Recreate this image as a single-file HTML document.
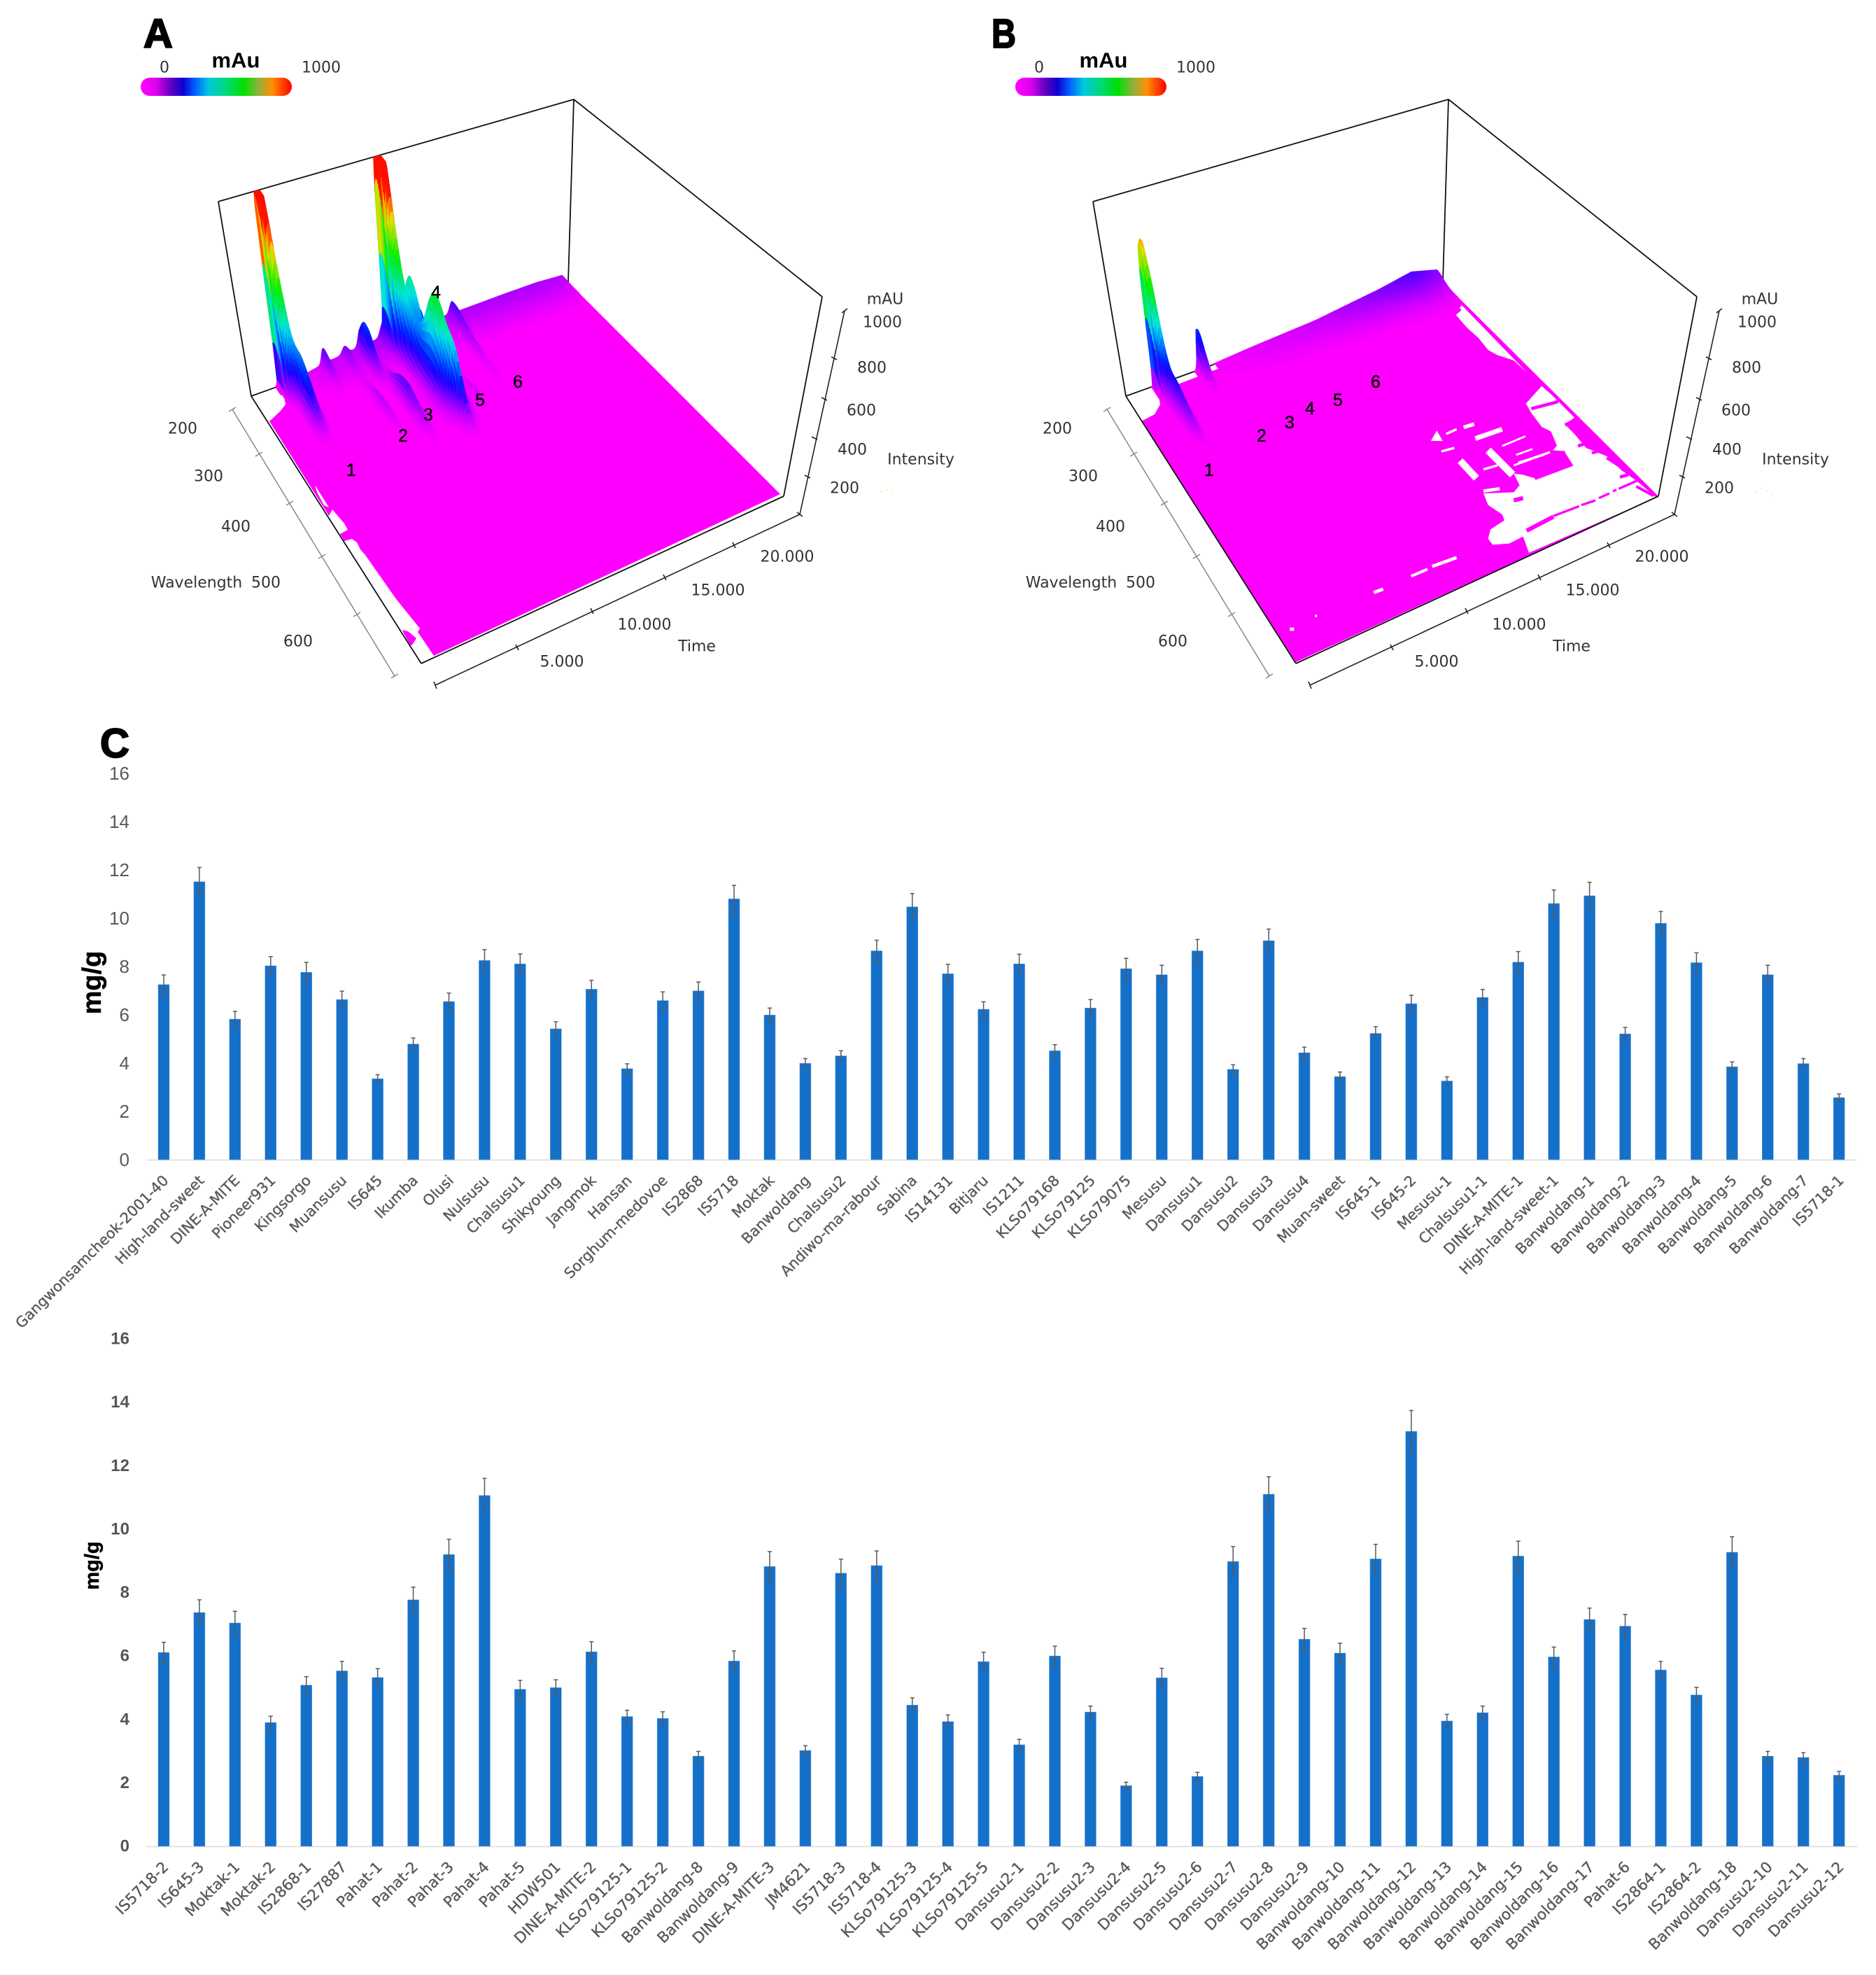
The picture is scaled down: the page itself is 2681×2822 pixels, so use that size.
<!DOCTYPE html>
<html lang="en">
<head>
<meta charset="utf-8">
<title>HPLC 3D chromatograms and content bar charts</title>
<style>
html,body{margin:0;padding:0;background:#fff}
svg{display:block}
.t3d{font-family:"DejaVu Sans","Liberation Sans",sans-serif;font-size:22px;fill:#333;text-anchor:middle;dominant-baseline:central}
.peak{font-family:"Liberation Sans",sans-serif;font-size:25px;fill:#000;stroke:#000;stroke-width:.5;text-anchor:middle;dominant-baseline:central}
.panel{font-family:"Liberation Sans",sans-serif;font-size:58px;font-weight:700;fill:#000;stroke:#000;stroke-width:2}
.unit{font-family:"Liberation Sans",sans-serif;font-size:31px;font-weight:700;fill:#000;text-anchor:middle;dominant-baseline:central}
.frame line{stroke:#111;stroke-width:1.8}
.gray line{stroke:#888;stroke-width:1.5}
.dark line{stroke:#222;stroke-width:1.6}
.ytitle{font-family:"Liberation Sans",sans-serif;font-weight:700;fill:#000;stroke:#000;stroke-width:.5;text-anchor:middle}
</style>
</head>
<body>
<svg id="root" xmlns="http://www.w3.org/2000/svg" width="2681" height="2822" viewBox="0 0 2681 2822">
<defs>
<linearGradient id="cbar" x1="0" x2="1" y1="0" y2="0">
<stop offset="0" stop-color="#ff00ff"/><stop offset=".1" stop-color="#e000f0"/><stop offset=".2" stop-color="#6000c0"/><stop offset=".28" stop-color="#1000d0"/><stop offset=".36" stop-color="#0060ff"/><stop offset=".45" stop-color="#00c8e0"/><stop offset=".56" stop-color="#00d880"/><stop offset=".68" stop-color="#00e000"/><stop offset=".78" stop-color="#90b040"/><stop offset=".87" stop-color="#ff9000"/><stop offset="1" stop-color="#ff0000"/>
</linearGradient>
</defs>
<rect width="2681" height="2822" fill="#fff"/>

<g id="panelA">
<text class="panel" x="205" y="68">A</text>
<g>
<text class="unit" x="337" y="86">mAu</text>
<text class="t3d" x="235" y="97">0</text>
<text class="t3d" x="459" y="97">1000</text>
<rect x="201" y="111" width="216" height="26" rx="13" fill="url(#cbar)"/>
</g>
<g class="frame">
<line x1="312" y1="288" x2="820" y2="142"/><line x1="820" y1="142" x2="1175" y2="424"/><line x1="312" y1="288" x2="359" y2="566"/><line x1="820" y1="142" x2="812" y2="403"/><line x1="1175" y1="424" x2="1120" y2="709"/><line x1="359" y1="566" x2="812" y2="403"/>
</g>
<polygon fill="#ff00ff" points="385,602 400,588 408,578 405,560 812,403 1115,706 620,937 597,903 600,898 567,857 557,843 522,793 515,785 510,775 503,770 492,773 486,763 497,757 492,748 475,728 470,737"/>
<polygon fill="#ff00ff" points="575,900 583,902 595,912 590,920 587,923 577,905"/>
<polygon fill="#fff" points="450,693 470,725 463,722 453,703"/>
<g id="meshA"></g>
<g class="frame">
<line x1="359" y1="566" x2="602" y2="948"/><line x1="602" y1="948" x2="1120" y2="709"/>
</g>
<g class="gray">
<line x1="332" y1="585" x2="564" y2="966"/><line x1="327" y1="588" x2="337" y2="582"/><line x1="365" y1="652" x2="375" y2="646"/><line x1="409" y1="722" x2="419" y2="716"/><line x1="455" y1="798" x2="465" y2="792"/><line x1="505" y1="881" x2="515" y2="875"/><line x1="559" y1="969" x2="569" y2="963"/>
</g>
<g class="dark">
<line x1="622" y1="979" x2="1143" y2="735"/><line x1="620" y1="974" x2="624" y2="984"/><line x1="737" y1="921" x2="741" y2="929"/><line x1="844" y1="869" x2="848" y2="877"/><line x1="948" y1="821" x2="952" y2="829"/><line x1="1047" y1="775" x2="1051" y2="783"/><line x1="1139" y1="732" x2="1147" y2="738"/>
</g>
<g class="dark">
<line x1="1143" y1="735" x2="1207" y2="444"/><line x1="1150" y1="679" x2="1158" y2="683"/><line x1="1160" y1="624" x2="1168" y2="628"/><line x1="1174" y1="568" x2="1182" y2="572"/><line x1="1188" y1="510" x2="1196" y2="514"/><line x1="1203" y1="447" x2="1211" y2="441"/>
</g>
<g>
<text class="t3d" x="261" y="613">200</text>
<text class="t3d" x="298" y="681">300</text>
<text class="t3d" x="337" y="753">400</text>
<text class="t3d" x="281" y="833">Wavelength</text>
<text class="t3d" x="380" y="833">500</text>
<text class="t3d" x="426" y="917">600</text>
<text class="t3d" x="803" y="946">5.000</text>
<text class="t3d" x="921" y="893">10.000</text>
<text class="t3d" x="1026" y="844">15.000</text>
<text class="t3d" x="1125" y="796">20.000</text>
<text class="t3d" x="996" y="924">Time</text>
<text class="t3d" x="1265" y="428">mAU</text>
<text class="t3d" x="1261" y="461">1000</text>
<text class="t3d" x="1246" y="526">800</text>
<text class="t3d" x="1231" y="587">600</text>
<text class="t3d" x="1218" y="643">400</text>
<text class="t3d" x="1207" y="698">200</text>
<text class="t3d" x="1316" y="657">Intensity</text>
</g>
<path d="M1258 702h3M1266 700h3M1274 701h2" stroke="#f5ee90" stroke-width="1.5"/>
<g>
<text class="peak" x="502" y="672">1</text>
<text class="peak" x="576" y="623">2</text>
<text class="peak" x="612" y="593">3</text>
<text class="peak" x="623" y="418">4</text>
<text class="peak" x="686" y="572">5</text>
<text class="peak" x="740" y="546">6</text>
</g>
</g>

<g id="panelB">
<text class="panel" x="1417" y="68" textLength="35" lengthAdjust="spacingAndGlyphs">B</text>
<g transform="translate(1250,0)">
<g>
<text class="unit" x="327" y="86">mAu</text>
<text class="t3d" x="235" y="97">0</text>
<text class="t3d" x="459" y="97">1000</text>
<rect x="201" y="111" width="216" height="26" rx="13" fill="url(#cbar)"/>
</g>
<g class="frame">
<line x1="312" y1="288" x2="820" y2="142"/><line x1="820" y1="142" x2="1175" y2="424"/><line x1="312" y1="288" x2="359" y2="566"/><line x1="820" y1="142" x2="812" y2="403"/><line x1="1175" y1="424" x2="1120" y2="709"/><line x1="359" y1="566" x2="812" y2="403"/>
</g>
<polygon fill="#ff00ff" points="381,602 400,592 408,578 405,560 812,403 1120,709 602,946"/>
</g>
<g transform="translate(1950,400) scale(.33333)">
<polygon fill="#fff" points="385,75 415,130 392,150 440,205 490,250 530,300 570,322 640,345 700,400"/>
<polygon fill="#fff" points="800,490 760,455 692,530 715,570 760,630 800,650 825,710 800,740 860,740 895,795 730,850 680,835 640,830 665,880 640,910 510,915 530,965 590,1005 600,1030 540,1070 530,1110 550,1135 620,1130 680,1100 705,1170 1250,932 1165,860 1100,815 1050,760 1000,740 950,720 900,660 860,620 900,590 840,530"/>
<g fill="none" stroke="#fff" stroke-linecap="butt">
<line x1="640" y1="795" x2="860" y2="715" stroke-width="9"/><line x1="700" y1="770" x2="830" y2="725" stroke-width="7"/>
</g>
<g fill="none" stroke="#ff00ff" stroke-linecap="butt">
<line x1="695" y1="1075" x2="810" y2="1015" stroke-width="18"/><line x1="810" y1="1012" x2="920" y2="970" stroke-width="10"/><line x1="930" y1="965" x2="990" y2="945" stroke-width="10"/><line x1="1005" y1="935" x2="1050" y2="915" stroke-width="10"/><line x1="1065" y1="905" x2="1080" y2="900" stroke-width="10"/><line x1="1090" y1="895" x2="1170" y2="860" stroke-width="10"/>
<line x1="715" y1="552" x2="830" y2="522" stroke-width="14"/><line x1="860" y1="622" x2="905" y2="600" stroke-width="14"/><line x1="915" y1="712" x2="975" y2="692" stroke-width="14"/><line x1="975" y1="742" x2="1040" y2="725" stroke-width="12"/><line x1="1040" y1="760" x2="1120" y2="812" stroke-width="18"/><line x1="1095" y1="845" x2="1130" y2="835" stroke-width="14"/><line x1="1165" y1="885" x2="1240" y2="925" stroke-width="12"/>
<line x1="730" y1="850" x2="890" y2="790" stroke-width="16"/><line x1="650" y1="825" x2="860" y2="745" stroke-width="10"/><line x1="640" y1="945" x2="680" y2="935" stroke-width="18"/><line x1="795" y1="735" x2="860" y2="740" stroke-width="12"/>
</g>
<g fill="none" stroke="#fff" stroke-linecap="butt">
<line x1="350" y1="660" x2="395" y2="640" stroke-width="10"/><line x1="425" y1="632" x2="470" y2="618" stroke-width="16"/><line x1="330" y1="735" x2="385" y2="720" stroke-width="10"/><line x1="410" y1="775" x2="480" y2="850" stroke-width="30"/><line x1="510" y1="812" x2="570" y2="795" stroke-width="10"/><line x1="530" y1="730" x2="635" y2="835" stroke-width="32"/><line x1="475" y1="680" x2="590" y2="640" stroke-width="20"/><line x1="590" y1="712" x2="690" y2="670" stroke-width="8"/><line x1="650" y1="750" x2="720" y2="725" stroke-width="8"/><line x1="660" y1="782" x2="770" y2="750" stroke-width="8"/><line x1="510" y1="905" x2="580" y2="895" stroke-width="14"/>
<line x1="200" y1="1270" x2="270" y2="1240" stroke-width="12"/><line x1="290" y1="1228" x2="395" y2="1190" stroke-width="14"/><line x1="40" y1="1340" x2="80" y2="1325" stroke-width="14"/>
</g>
<polygon fill="#fff" points="285,690 310,645 335,690"/>
<rect x="-320" y="1490" width="18" height="14" fill="#fff"/>
<rect x="-212" y="1435" width="8" height="10" fill="#fff"/>
</g>
<g transform="translate(1250,0)">
<g id="meshB"></g>
<g class="frame">
<line x1="359" y1="566" x2="602" y2="948"/><line x1="602" y1="948" x2="1120" y2="709"/>
</g>
<g class="gray">
<line x1="332" y1="585" x2="564" y2="966"/><line x1="327" y1="588" x2="337" y2="582"/><line x1="365" y1="652" x2="375" y2="646"/><line x1="409" y1="722" x2="419" y2="716"/><line x1="455" y1="798" x2="465" y2="792"/><line x1="505" y1="881" x2="515" y2="875"/><line x1="559" y1="969" x2="569" y2="963"/>
</g>
<g class="dark">
<line x1="622" y1="979" x2="1143" y2="735"/><line x1="620" y1="974" x2="624" y2="984"/><line x1="737" y1="921" x2="741" y2="929"/><line x1="844" y1="869" x2="848" y2="877"/><line x1="948" y1="821" x2="952" y2="829"/><line x1="1047" y1="775" x2="1051" y2="783"/><line x1="1139" y1="732" x2="1147" y2="738"/>
</g>
<g class="dark">
<line x1="1143" y1="735" x2="1207" y2="444"/><line x1="1150" y1="679" x2="1158" y2="683"/><line x1="1160" y1="624" x2="1168" y2="628"/><line x1="1174" y1="568" x2="1182" y2="572"/><line x1="1188" y1="510" x2="1196" y2="514"/><line x1="1203" y1="447" x2="1211" y2="441"/>
</g>
<g>
<text class="t3d" x="261" y="613">200</text>
<text class="t3d" x="298" y="681">300</text>
<text class="t3d" x="337" y="753">400</text>
<text class="t3d" x="281" y="833">Wavelength</text>
<text class="t3d" x="380" y="833">500</text>
<text class="t3d" x="426" y="917">600</text>
<text class="t3d" x="803" y="946">5.000</text>
<text class="t3d" x="921" y="893">10.000</text>
<text class="t3d" x="1026" y="844">15.000</text>
<text class="t3d" x="1125" y="796">20.000</text>
<text class="t3d" x="996" y="924">Time</text>
<text class="t3d" x="1265" y="428">mAU</text>
<text class="t3d" x="1261" y="461">1000</text>
<text class="t3d" x="1246" y="526">800</text>
<text class="t3d" x="1231" y="587">600</text>
<text class="t3d" x="1218" y="643">400</text>
<text class="t3d" x="1207" y="698">200</text>
<text class="t3d" x="1316" y="657">Intensity</text>
</g>
<path d="M1258 702h3M1266 698h3M1274 701h2M1282 708h2" stroke="#f5ee90" stroke-width="1.5"/>
<g>
<text class="peak" x="478" y="672">1</text>
<text class="peak" x="553" y="623">2</text>
<text class="peak" x="593" y="604">3</text>
<text class="peak" x="622" y="584">4</text>
<text class="peak" x="662" y="572">5</text>
<text class="peak" x="716" y="546">6</text>
</g>
</g>
</g>

<text class="panel" x="143" y="1082">C</text>
<g id="chart1">
<text class="ytitle" font-size="38" transform="translate(144,1404) rotate(-90)">mg/g</text>
</g>
<g id="chart2">
<text class="ytitle" font-size="29" transform="translate(141,2237) rotate(-90)">mg/g</text>
</g>
</svg>

<script>
const yTicks = [0, 2, 4, 6, 8, 10, 12, 14, 16];

const upperCategories = ["Gangwonsamcheok-2001-40","High-land-sweet","DINE-A-MITE","Pioneer931","Kingsorgo","Muansusu","IS645","Ikumba","Olusi","Nulsusu","Chalsusu1","Shikyoung","Jangmok","Hansan","Sorghum-medovoe","IS2868","IS5718","Moktak","Banwoldang","Chalsusu2","Andiwo-ma-rabour","Sabina","IS14131","Bitjaru","IS1211","KLSo79168","KLSo79125","KLSo79075","Mesusu","Dansusu1","Dansusu2","Dansusu3","Dansusu4","Muan-sweet","IS645-1","IS645-2","Mesusu-1","Chalsusu1-1","DINE-A-MITE-1","High-land-sweet-1","Banwoldang-1","Banwoldang-2","Banwoldang-3","Banwoldang-4","Banwoldang-5","Banwoldang-6","Banwoldang-7","IS5718-1"];
const upperValues = [7.25,11.51,5.82,8.03,7.76,6.63,3.35,4.79,6.55,8.25,8.11,5.42,7.06,3.77,6.59,6.99,10.8,5.99,3.99,4.3,8.65,10.47,7.7,6.23,8.11,4.51,6.28,7.91,7.66,8.65,3.74,9.07,4.43,3.44,5.23,6.46,3.26,6.72,8.18,10.61,10.93,5.21,9.79,8.16,3.85,7.66,3.98,2.57];
const upperErrors = [0.4,0.59,0.32,0.38,0.41,0.35,0.17,0.25,0.35,0.45,0.41,0.29,0.37,0.2,0.36,0.37,0.56,0.29,0.2,0.21,0.44,0.55,0.39,0.31,0.4,0.25,0.35,0.43,0.39,0.47,0.19,0.48,0.23,0.19,0.28,0.35,0.17,0.33,0.44,0.56,0.56,0.27,0.49,0.41,0.2,0.39,0.21,0.15];

const lowerCategories = ["IS5718-2","IS645-3","Moktak-1","Moktak-2","IS2868-1","IS27887","Pahat-1","Pahat-2","Pahat-3","Pahat-4","Pahat-5","HDW501","DINE-A-MITE-2","KLSo79125-1","KLSo79125-2","Banwoldang-8","Banwoldang-9","DINE-A-MITE-3","JM4621","IS5718-3","IS5718-4","KLSo79125-3","KLSo79125-4","KLSo79125-5","Dansusu2-1","Dansusu2-2","Dansusu2-3","Dansusu2-4","Dansusu2-5","Dansusu2-6","Dansusu2-7","Dansusu2-8","Dansusu2-9","Banwoldang-10","Banwoldang-11","Banwoldang-12","Banwoldang-13","Banwoldang-14","Banwoldang-15","Banwoldang-16","Banwoldang-17","Pahat-6","IS2864-1","IS2864-2","Banwoldang-18","Dansusu2-10","Dansusu2-11","Dansusu2-12"];
const lowerValues = [6.11,7.37,7.04,3.9,5.08,5.53,5.32,7.77,9.2,11.06,4.95,5.0,6.13,4.09,4.03,2.84,5.84,8.82,3.02,8.61,8.85,4.45,3.93,5.82,3.2,6.0,4.23,1.91,5.31,2.2,8.98,11.1,6.53,6.09,9.06,13.08,3.95,4.21,9.15,5.97,7.15,6.94,5.56,4.77,9.27,2.84,2.8,2.24];
const lowerErrors = [0.32,0.4,0.37,0.2,0.27,0.3,0.28,0.4,0.48,0.54,0.28,0.25,0.32,0.2,0.21,0.15,0.32,0.47,0.15,0.44,0.46,0.23,0.21,0.3,0.17,0.31,0.19,0.11,0.3,0.13,0.47,0.55,0.34,0.31,0.46,0.66,0.21,0.21,0.47,0.31,0.36,0.37,0.27,0.24,0.49,0.15,0.15,0.12];

/* Peak tables: retention time, wavelength nm, intensity mAU, time width, wavelength width, time-profile exponent */
const peakTimesA = [2650,3125,2875,5850,7500,8800,9400,7750,10500,11125,11250,12000,12700,11900,11950,15900,13750];
const peakWavelengthsA = [206,242,280,203,205,220,300,290,205,207,245,233,230,305,350,219,325];
const peakIntensitiesA = [1150,270,80,80,40,180,120,50,70,1150,280,380,180,520,200,70,40];
const peakTimeWidthsA = [400,400,350,250,300,300,350,300,300,420,420,400,250,700,250,270,200];
const peakWaveWidthsA = [20,35,20,25,30,25,45,35,30,22,30,25,15,40,20,65,30];
const peakShapesA = [4,2,2,2,2,2,2,2,2,4,2,2,2,2,2,2,2];

const peakTimesB = [2650,2875,2900,5950];
const peakWavelengthsB = [206,245,285,203];
const peakIntensitiesB = [745,150,60,220];
const peakTimeWidthsB = [380,380,340,240];
const peakWaveWidthsB = [18,30,22,22];
const peakShapesB = [4,2,2,2];

const detectorLimit = 1000;
const baselineTimes = [0,4000,6000,10000,15000,20000,22500,24500,25000];
const baselineA = [0,10,35,60,55,60,60,50,0];
const baselineB = [0,0,0,20,40,85,118,80,0];

const svgNS = 'http://www.w3.org/2000/svg';
function mk(tag, parent, geometry) {
  const el = document.createElementNS(svgNS, tag);
  for (const k in geometry) el.setAttribute(k, geometry[k]);
  parent.appendChild(el);
  return el;
}

/* ---------- bar charts ---------- */
const FIRST_BAR_X = 234, BAR_STEP = 50.94, BAR_W = 16;
function drawBars(root, categories, values, errors, y0, y16, tickBold, nm, labelSize) {
  const yScale = v => y0 - (y0 - y16) * v / 16;
  const xScale = i => FIRST_BAR_X + BAR_STEP * i;
  const axis = mk('line', root, {x1: 209, x2: 2654, y1: y0 + 0.5, y2: y0 + 0.5, stroke: '#d9d9d9', 'stroke-width': 1.6});
  
  
  yTicks.forEach(t => {
    const lab = mk('text', root, {x: 185, y: yScale(t), 'text-anchor': 'end', 'dominant-baseline': 'central', fill: tickBold ? '#555' : '#595959', 'font-size': tickBold ? 24 : 26, 'font-weight': tickBold ? 700 : 400, 'font-family': '"Liberation Sans",sans-serif'});
    lab.textContent = t;
    
    
  });
  categories.forEach((c, i) => {
    const x = xScale(i), top = yScale(values[i]);
    const bar = mk('rect', root, {x: x - BAR_W / 2, y: top, width: BAR_W, height: y0 - top, fill: '#1570c9', stroke: '#5a9bdc', 'stroke-width': .5});
    
    
    const hi = yScale(values[i] + errors[i]), lo = yScale(values[i] - errors[i]);
    const whisk = mk('path', root, {d: `M${x} ${hi}V${lo}M${x - 3} ${hi}H${x + 3}M${x - 3} ${lo}H${x + 3}`, stroke: '#595959', 'stroke-width': 1.5, fill: 'none'});
    
    
    const lx = x + 8, ly = y0 + 31;
    const lab = mk('text', root, {transform: `translate(${lx},${ly}) rotate(-45)`, 'text-anchor': 'end', fill: '#595959', stroke: '#595959', 'stroke-width': .35, 'font-size': labelSize, 'font-family': '"DejaVu Sans","Liberation Sans",sans-serif'});
    lab.textContent = c;
    
    
  });
}
drawBars(document.getElementById('chart1'), upperCategories, upperValues, upperErrors, 1657, 1105, false, 'upper', 20.8);
drawBars(document.getElementById('chart2'), lowerCategories, lowerValues, lowerErrors, 2638, 1913, true, 'lower', 21.5);

/* ---------- 3D surfaces ---------- */
const LB = [359, 566], BB = [812, 403], FB = [602, 948], RB = [1120, 709];
const T_MAX = 25000, WL_MIN = 200, WL_MAX = 700;
function project(time, wl, mau) {
  const u = time / T_MAX, v = (wl - WL_MIN) / (WL_MAX - WL_MIN);
  const px = (1 - u) * (1 - v) * LB[0] + u * (1 - v) * BB[0] + (1 - u) * v * FB[0] + u * v * RB[0];
  const py = (1 - u) * (1 - v) * LB[1] + u * (1 - v) * BB[1] + (1 - u) * v * FB[1] + u * v * RB[1];
  return [px + (-47 + 55 * u) * mau / 1000, py + (-278 + 17 * u) * mau / 1000];
}
const ramp = [[0,255,0,255],[50,190,0,255],[100,110,0,255],[150,30,0,255],[200,0,40,255],[280,0,140,255],[360,0,230,220],[450,0,230,110],[540,0,240,0],[640,130,230,0],[720,230,220,0],[790,255,130,0],[860,255,20,0],[1200,255,0,0]];
function colour(h) {
  for (let i = 1; i < ramp.length; i++) {
    if (h <= ramp[i][0]) {
      const a = ramp[i - 1], b = ramp[i], f = (h - a[0]) / (b[0] - a[0]);
      return `rgb(${Math.round(a[1] + (b[1] - a[1]) * f)},${Math.round(a[2] + (b[2] - a[2]) * f)},${Math.round(a[3] + (b[3] - a[3]) * f)})`;
    }
  }
  return 'rgb(255,0,0)';
}
function baseline(t, curve) {
  for (let i = 1; i < baselineTimes.length; i++) {
    if (t <= baselineTimes[i]) {
      const f = (t - baselineTimes[i - 1]) / (baselineTimes[i] - baselineTimes[i - 1]);
      return curve[i - 1] + (curve[i] - curve[i - 1]) * f;
    }
  }
  return 0;
}
function drawSurface(group, times, waves, heights, tw, ww, shapes, curve, nm) {
  const height = (t, w) => {
    const d = (w - WL_MIN) / 32;
    let h = baseline(t, curve) * Math.exp(-d * d);
    for (let k = 0; k < times.length; k++) {
      const a = Math.abs(t - times[k]) / tw[k], b = (w - waves[k]) / ww[k];
      const e = Math.pow(a, shapes[k]) + b * b;
      if (e < 16) h += heights[k] * Math.exp(-e);
    }
    return Math.min(h, detectorLimit);
  };
  const rows = [];
  for (let w = WL_MIN; w < 470; w += (w < 260 ? 2 : 5)) rows.push(w);
  const dt = 100;
  for (let r = 0; r < rows.length - 1; r++) {
    const w0 = rows[r], w1 = rows[r + 1];
    for (let t = T_MAX - dt; t >= 0; t -= dt) {
      const a = height(t, w0), b = height(t + dt, w0), c = height(t + dt, w1), d = height(t, w1);
      const m = Math.max(a, b, c, d);
      if (m < 5) continue;
      const pts = [project(t, w0, a), project(t + dt, w0, b), project(t + dt, w1, c), project(t, w1, d)];
      const col = colour((a + b + c + d) / 4);
      const cell = mk('polygon', group, {points: pts.map(p => p[0].toFixed(1) + ',' + p[1].toFixed(1)).join(' '), fill: col, stroke: col, 'stroke-width': .7});
      
      
    }
  }
}
drawSurface(document.getElementById('meshA'), peakTimesA, peakWavelengthsA, peakIntensitiesA, peakTimeWidthsA, peakWaveWidthsA, peakShapesA, baselineA, 'panel-a');
drawSurface(document.getElementById('meshB'), peakTimesB, peakWavelengthsB, peakIntensitiesB, peakTimeWidthsB, peakWaveWidthsB, peakShapesB, baselineB, 'panel-b');
</script>
</body>
</html>
